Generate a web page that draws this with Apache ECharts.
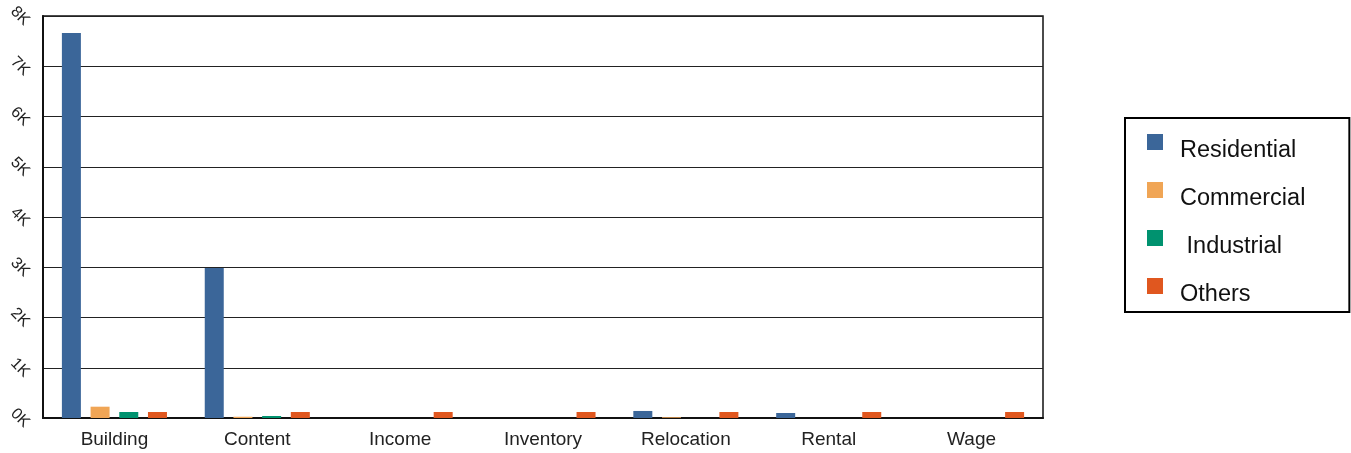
<!DOCTYPE html>
<html>
<head>
<meta charset="utf-8">
<script src="https://cdn.jsdelivr.net/npm/echarts@6/dist/echarts.min.js"></script>
<style>
html, body { margin: 0; padding: 0; background: #fff; }
#lossChart { width: 1351px; height: 453px; }
</style>
</head>
<body>
<div id="lossChart"></div>
<script>
// categories and values
var categories = ['Building', 'Content', 'Income', 'Inventory', 'Relocation', 'Rental', 'Wage'];
var residential = [7660, 2985, 0, 0, 140, 100, 0];
var commercial = [225, 25, 0, 0, 15, 0, 0];
var industrial = [120, 40, 0, 0, 0, 0, 0];
var others = [120, 120, 120, 120, 120, 120, 120];
var yTicks = ['0K', '1K', '2K', '3K', '4K', '5K', '6K', '7K', '8K'];

function makeSerie(name, data, color) {
    var serie = new Object();
    serie["name"] = name;
    serie["type"] = 'bar';
    serie["data"] = data;
    serie["barWidth"] = 19;
    serie["barGap"] = '51%';
    serie["itemStyle"] = { color: color };
    return serie;
}

function initChart() {
    var chart = echarts.init(document.getElementById('lossChart'));
    var series = [];
    series.push(makeSerie('Residential', residential, '#3b6699'));
    series.push(makeSerie('Commercial', commercial, '#f0a555'));
    series.push(makeSerie('Industrial', industrial, '#00926f'));
    series.push(makeSerie('Others', others, '#e0571f'));

    var option = {
        animation: false,
        textStyle: { fontFamily: 'Liberation Sans, Arial, sans-serif' },
        grid: {
            left: 43, right: 308, top: 16, bottom: 35,
            show: true,
            borderColor: '#111',
            borderWidth: 1.5
        },
        legend: {
            orient: 'vertical',
            left: 1125,
            top: 118,
            padding: [16, 44, 0, 22],
            itemGap: 14,
            itemWidth: 16,
            itemHeight: 34,
            borderColor: '#000',
            borderWidth: 2,
            // square on top, text sits a bit lower like the original
            icon: 'path://M0,0h16v16h-16z M0,33.99h0.01v0.01h-0.01z',
            textStyle: { fontSize: 23.5, color: '#111', padding: [0, 0, 0, 12] },
            formatter: function (name) { return name === 'Industrial' ? ' Industrial' : name; },
            data: ['Residential', 'Commercial', 'Industrial', 'Others']
        },
        xAxis: [{
            type: 'category',
            data: categories,
            axisLine: { lineStyle: { color: '#111', width: 2 } },
            axisTick: { show: false },
            axisLabel: { fontSize: 19, color: '#222', margin: 12 }
        }],
        yAxis: [{
            type: 'value',
            min: 0,
            max: 8000,
            interval: 1000,
            axisLine: { show: true, lineStyle: { color: '#111', width: 2 } },
            axisTick: { show: false },
            splitLine: { lineStyle: { color: '#222', width: 1 } },
            axisLabel: {
                fontSize: 16,
                color: '#222',
                rotate: -45,
                align: 'center',
                verticalAlign: 'middle',
                margin: 23,
                formatter: function (v) { return yTicks[Math.round(v / 1000)]; }
            }
        }],
        series: series
    };
    chart.setOption(option);
}

initChart();
</script>
</body>
</html>
